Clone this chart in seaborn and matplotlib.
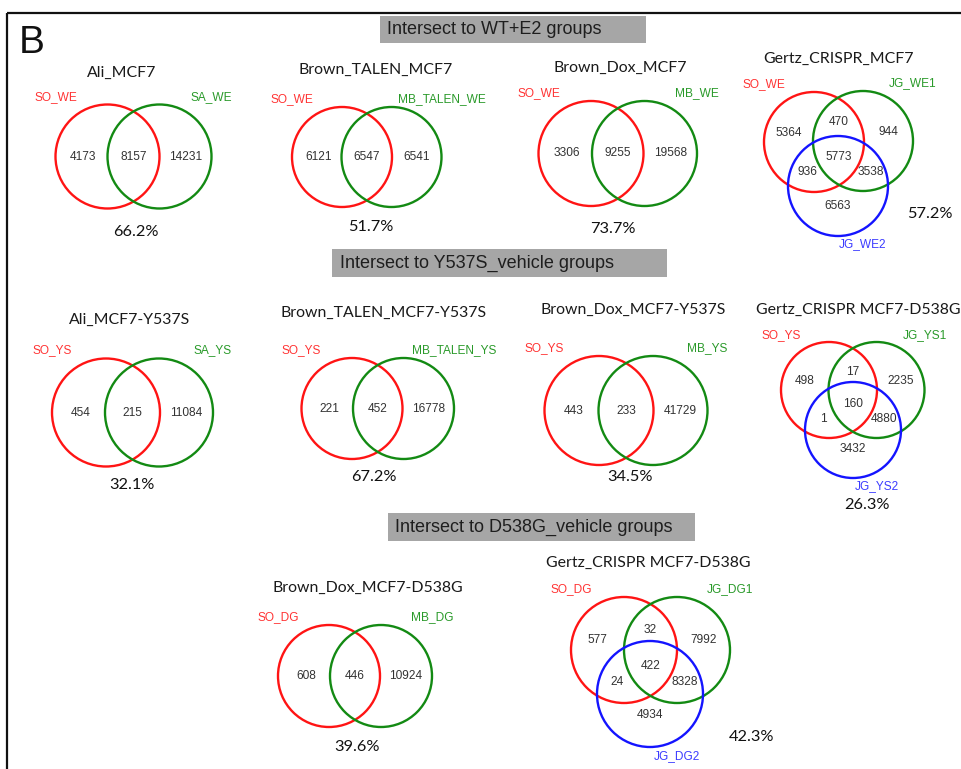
import numpy as np
import matplotlib
matplotlib.use("Agg")
import matplotlib.pyplot as plt
from matplotlib.patches import Rectangle, Circle
import seaborn as sns

# ---- data -----------------------------------------------------------------
headers = ["Intersect to WT+E2 groups",
           "Intersect to Y537S_vehicle groups",
           "Intersect to D538G_vehicle groups"]

titles = ["Ali_MCF7", "Brown_TALEN_MCF7", "Brown_Dox_MCF7", "Gertz_CRISPR_MCF7",
          "Ali_MCF7-Y537S", "Brown_TALEN_MCF7-Y537S", "Brown_Dox_MCF7-Y537S",
          "Gertz_CRISPR MCF7-D538G",
          "Brown_Dox_MCF7-D538G", "Gertz_CRISPR MCF7-D538G"]

set_names = [["SO_WE", "SA_WE"], ["SO_WE", "MB_TALEN_WE"], ["SO_WE", "MB_WE"],
             ["SO_WE", "JG_WE1", "JG_WE2"],
             ["SO_YS", "SA_YS"], ["SO_YS", "MB_TALEN_YS"], ["SO_YS", "MB_YS"],
             ["SO_YS", "JG_YS1", "JG_YS2"],
             ["SO_DG", "MB_DG"], ["SO_DG", "JG_DG1", "JG_DG2"]]

# two-set counts: [A only, A&B, B only]
ali_we = [4173, 8157, 14231]
brown_talen_we = [6121, 6547, 6541]
brown_dox_we = [3306, 9255, 19568]
ali_ys = [454, 215, 11084]
brown_talen_ys = [221, 452, 16778]
brown_dox_ys = [443, 233, 41729]
brown_dox_dg = [608, 446, 10924]
# three-set counts: [A only, A&B, B only, A&C, A&B&C, B&C, C only]
gertz_we = [5364, 470, 944, 936, 5773, 3538, 6563]
gertz_ys = [498, 17, 2235, 1, 160, 4880, 3432]
gertz_dg = [577, 32, 7992, 24, 422, 8328, 4934]

region_counts = [ali_we, brown_talen_we, brown_dox_we, gertz_we,
                 ali_ys, brown_talen_ys, brown_dox_ys, gertz_ys,
                 brown_dox_dg, gertz_dg]

overlap_pct = [66.2, 51.7, 73.7, 57.2, 32.1, 67.2, 34.5, 26.3, 39.6, 42.3]

# ---- layout (pixel space of the canvas) -------------------------------------
header_boxes = [(380, 16, 266, 27, 387), (332, 249, 335, 28, 340),
                (388, 513, 307, 28, 395)]
circle_centers = [
    [(107.5, 156.5), (159.5, 156.5)],
    [(342, 157), (391.5, 157)],
    [(591, 153.5), (644.5, 153.5)],
    [(814, 142), (863, 141), (838, 186)],
    [(106, 412.5), (159, 412.5)],
    [(352, 408.5), (403.5, 408.5)],
    [(599, 410.5), (653, 410.5)],
    [(829, 390), (876.5, 390), (853, 430)],
    [(329, 676), (381, 676)],
    [(624, 650), (677, 650), (650, 694)],
]
radii = [52, 50, 52.5, 50, 54, 50.5, 54.5, 48, 51, 53]
title_xy = [(122, 73), (375.5, 70), (620, 68), (838, 59),
            (130, 320), (383.5, 313), (633, 310), (858, 310),
            (368, 588), (648, 563)]
pct_xy = [(136, 232), (370.5, 227), (613, 229), (930, 214),
          (132, 485), (374, 477), (630, 477), (867, 505),
          (357, 747), (752, 737)]

ring_colors = sns.color_palette(["#ff1414", "#138a13", "#1414ff"])
name_colors = sns.color_palette(["#ff3434", "#2a9a2a", "#3c3cff"])

# ---- drawing ---------------------------------------------------------------
sns.set_theme(style="white")
plt.rcParams["font.family"] = ["Liberation Sans", "DejaVu Sans"]

fig = plt.figure(figsize=(9.61, 7.69), dpi=100)
ax = fig.add_axes([0, 0, 1, 1])
ax.set_xlim(0, 961)
ax.set_ylim(769, 0)
ax.axis("off")

# panel frame (top and left edges)
sns.lineplot(x=[7, 961], y=[13, 13], color="#111111", lw=1.6, ax=ax,
             solid_capstyle="butt")
sns.lineplot(x=[7, 7], y=[13, 769], color="#111111", lw=1.6, ax=ax,
             sort=False, estimator=None, solid_capstyle="butt")
ax.text(31.5, 43, "B", fontsize=28, ha="center", va="center", color="#111111")

for (bx, by, bw, bh, tx), label in zip(header_boxes, headers):
    ax.add_patch(Rectangle((bx, by), bw, bh, facecolor="#a6a6a6",
                           edgecolor="none"))
    ax.text(tx, by + bh / 2 + 0.5, label, fontsize=13, ha="left", va="center",
            color="#1e1e1e")

num_kw = dict(fontsize=8.6, ha="center", va="center", color="#333333")
title_kw = dict(fontsize=11.4, ha="center", va="center", color="#1a1a1a",
                family=["Lato", "DejaVu Sans"])
pct_kw = dict(fontsize=11.8, ha="center", va="center", color="#111111",
              family=["Lato", "DejaVu Sans"])

for i in range(len(titles)):
    centers = circle_centers[i]
    r = radii[i]
    for k, (cx, cy) in enumerate(centers):
        ax.add_patch(Circle((cx, cy), r, fill=False, edgecolor=ring_colors[k],
                            lw=1.7))

    counts = region_counts[i]
    (ax_, ay_), (bx_, by_) = centers[0], centers[1]
    if len(centers) == 2:
        pos = [((ax_ - r + bx_ - r) / 2 + 2, ay_),
               ((ax_ + bx_) / 2, ay_),
               ((ax_ + r + bx_ + r) / 2, by_)]
    else:
        cx3, cy3 = centers[2]
        gx = (ax_ + bx_ + cx3) / 3
        gy = (ay_ + by_ + cy3) / 3
        pos = [(ax_ - 0.5 * r, ay_ - 0.18 * r),
               ((ax_ + bx_) / 2, min(ay_, by_) - 0.38 * r),
               (bx_ + 0.5 * r, by_ - 0.18 * r),
               (gx - 0.62 * r, gy + 0.32 * r),
               (gx, gy + 0.02 * r),
               (gx + 0.64 * r, gy + 0.32 * r),
               (cx3, cy3 + 0.4 * r)]
    for (px, py), n in zip(pos, counts):
        ax.text(px, py, f"{n}", **num_kw)

    names = set_names[i]
    ax.text(ax_ - r, ay_ - 1.15 * r, names[0], fontsize=8.6, ha="center",
            va="center", color=name_colors[0])
    ax.text(bx_ + r, by_ - 1.15 * r, names[1], fontsize=8.6, ha="center",
            va="center", color=name_colors[1])
    if len(names) == 3:
        cx3, cy3 = centers[2]
        ax.text(cx3 + 0.5 * r, cy3 + 1.17 * r, names[2], fontsize=8.6,
                ha="center", va="center", color=name_colors[2])

    ax.text(*title_xy[i], titles[i], **title_kw)
    ax.text(*pct_xy[i], f"{overlap_pct[i]:.1f}%", **pct_kw)

fig.savefig("out.png", dpi=100, facecolor="white")
